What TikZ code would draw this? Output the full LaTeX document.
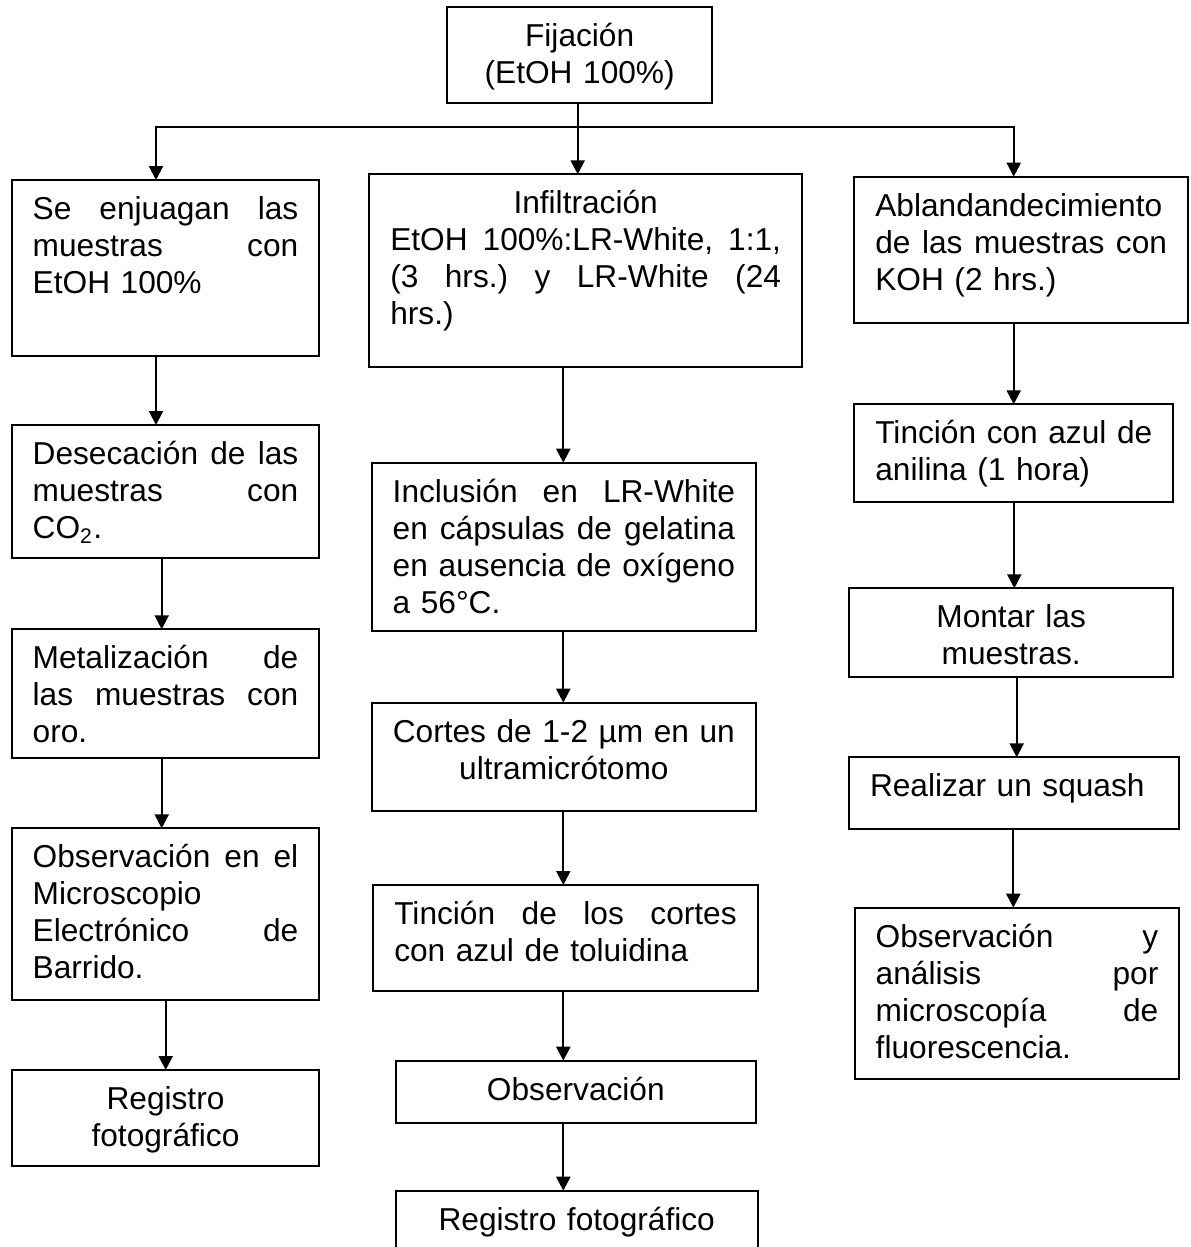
\documentclass[tikz,border=0pt]{standalone}
\usepackage{fontspec}
\setmainfont{Liberation Sans}
\usetikzlibrary{arrows.meta}
\newlength{\pix}\setlength{\pix}{0.379pt}
\tikzstyle{caja} = [rectangle, draw=black, line width=0.85pt, anchor=north west, outer sep=0pt, inner xsep=21\pix, inner ysep=0pt, text height=39.5\pix, font=\fontsize{12pt}{14pt}\selectfont]
\tikzstyle{arrow} = [line width=0.85pt, -{Triangle[width=5.3pt,length=5.3pt]}]

\begin{document}
\begin{tikzpicture}[x=0.379pt, y=-0.379pt]
\path[use as bounding box, fill=white] (0,0) rectangle (1190,1247);

\node (fijacion) [caja, align=center, text width=222.7\pix, text depth=56.5\pix] at (447.3,6.7) {Fijación\\(EtOH 100\%)};

\node (enjuague) [caja, align=left, text width=265.6\pix, text depth=136.2\pix] at (11.7,180) {Se\hfill enjuagan\hfill las\\muestras\hfill con\\EtOH 100\%};
\node (desecacion) [caja, align=left, text width=265.6\pix, text depth=93.2\pix] at (11.7,425) {Desecación\hfill de\hfill las\\muestras\hfill con\\CO\textsubscript{2}.};
\node (metalizacion) [caja, align=left, text width=265.6\pix, text depth=88.9\pix] at (11.7,629.3) {Metalización\hfill de\\las\hfill muestras\hfill con\\oro.};
\node (observacionMEB) [caja, align=left, text width=265.6\pix, text depth=132.2\pix] at (11.7,828.3) {Observación\hfill en\hfill el\\Microscopio\\Electrónico\hfill de\\Barrido.};
\node (registroA) [caja, align=center, text width=265.6\pix, text depth=56.2\pix] at (11.7,1070) {Registro\\fotográfico};

\node (infiltracion) [caja, align=left, text width=390.7\pix, text depth=152.9\pix] at (369.3,174.3) {\hspace*{\fill}Infiltración\hspace*{\fill}\mbox{}\\EtOH\hfill 100\%:LR-White,\hfill 1:1,\\(3\hfill hrs.)\hfill y\hfill LR-White\hfill (24\\hrs.)};
\node (inclusion) [caja, align=left, text width=342.3\pix, text depth=128.8\pix] at (371.7,462.7) {Inclusión\hfill en\hfill LR-White\\en\hfill cápsulas\hfill de\hfill gelatina\\en\hfill ausencia\hfill de\hfill oxígeno\\a 56°C.};
\node (cortes) [caja, align=center, text width=342.3\pix, text depth=68.5\pix] at (371.7,702.7) {Cortes de 1-2 µm en un\\ultramicrótomo};
\node (tincionB) [caja, align=left, text width=342.4\pix, text depth=66.2\pix] at (373.3,885) {Tinción\hfill de\hfill los\hfill cortes\\con azul de toluidina};
\node (observacionB) [caja, align=center, text width=318.3\pix, text depth=22.5\pix] at (395.7,1060.7) {Observación};
\node (registroB) [caja, align=center, text width=320\pix, text depth=21.8\pix] at (395.7,1190.7) {Registro fotográfico};

\node (ablandamiento) [caja, align=left, text width=291.7\pix, text depth=106.5\pix] at (854.3,176.7) {Ablandandecimiento\\de\hfill las\hfill muestras\hfill con\\KOH (2 hrs.)};
\node (tincionC) [caja, align=left, text width=277\pix, text depth=58.5\pix] at (854.3,404.3) {Tinción\hfill con\hfill azul\hfill de\\anilina (1 hora)};
\node (montar) [caja, align=center, text width=282.3\pix, text depth=48.9\pix] at (849,588.3) {Montar las\\muestras.};
\node (realizar) [caja, align=left, text width=288.3\pix, text depth=32.2\pix] at (849,757.3) {Realizar un squash};
\node (observacionC) [caja, align=left, text width=282.6\pix, text depth=131.8\pix] at (854.7,907.7) {Observación\hfill y\\análisis\hfill por\\microscopía\hfill de\\fluorescencia.};

\coordinate (ramal) at (577.7,126.7);
\draw [arrow] (fijacion.south -| ramal) -- (infiltracion.north -| ramal);
\draw [arrow] (ramal) -| (enjuague.north -| 156,0);
\draw [arrow] (ramal) -| (ablandamiento.north -| 1013.7,0);
\foreach \a/\b/\x in {enjuague/desecacion/156, desecacion/metalizacion/161.7, metalizacion/observacionMEB/161.7, observacionMEB/registroA/165.7,
  infiltracion/inclusion/563.3, inclusion/cortes/563.3, cortes/tincionB/563.3, tincionB/observacionB/563.3, observacionB/registroB/563.3,
  ablandamiento/tincionC/1013.7, tincionC/montar/1014.3, montar/realizar/1016.7, realizar/observacionC/1013.3}
  \draw [arrow] (\a.south -| \x,0) -- (\b.north -| \x,0);
\end{tikzpicture}
\end{document}
